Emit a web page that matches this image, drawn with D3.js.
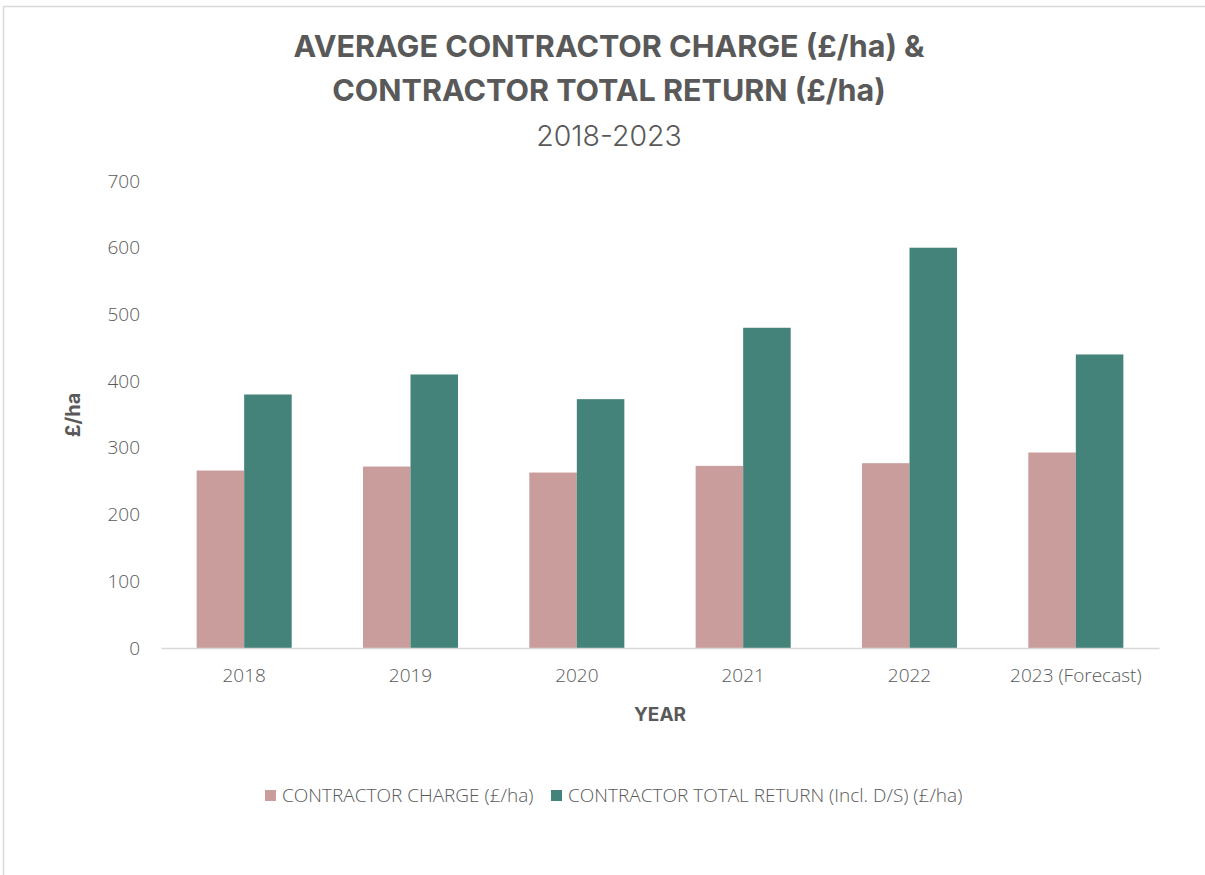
<!DOCTYPE html>
<html>
<head>
<meta charset="utf-8">
<script src="https://cdn.jsdelivr.net/npm/d3@7"></script>
<style>
  body { margin: 0; background: #fff; }
  svg { display: block; }
  .tick text { font-family: "Open Sans", sans-serif; font-size: 19px; fill: #595959; font-weight: 300; }
</style>
</head>
<body>
<svg width="1205" height="875"></svg>
<script>
// data
const years = ["2018", "2019", "2020", "2021", "2022", "2023 (Forecast)"];
const contractorCharge = [266, 272, 263, 273, 277, 293];
const totalReturn = [380, 410, 373, 480, 600, 440];
const seriesNames = ["CONTRACTOR CHARGE (£/ha)", "CONTRACTOR TOTAL RETURN (Incl. D/S) (£/ha)"];
const yTicks = [0, 100, 200, 300, 400, 500, 600, 700];

const colors = ["#c89d9b", "#44837a"];
const textColor = "#595959";

const svg = d3.select("svg");
const margin = { top: 181, right: 46, bottom: 227, left: 161 };
const width = 1205, height = 875;
const innerWidth = width - margin.left - margin.right;
const innerHeight = height - margin.top - margin.bottom;

// chart border (right and bottom edges fall outside the picture)
svg.append("path")
  .attr("d", "M3.5,875 V6.5 H1205")
  .attr("fill", "none").attr("stroke", "#d9d9d9").attr("stroke-width", 1.5);

// titles
svg.append("text")
  .attr("x", 609).attr("y", 57)
  .attr("text-anchor", "middle")
  .style("font-family", "Inter, sans-serif").style("font-weight", 700)
  .style("font-size", "30.5px").style("fill", textColor)
  .text("AVERAGE CONTRACTOR CHARGE (£/ha) &");
svg.append("text")
  .attr("x", 609).attr("y", 101)
  .attr("text-anchor", "middle")
  .style("font-family", "Inter, sans-serif").style("font-weight", 700)
  .style("font-size", "30.5px").style("fill", textColor)
  .text("CONTRACTOR TOTAL RETURN (£/ha)");
svg.append("text")
  .attr("x", 609).attr("y", 146)
  .attr("text-anchor", "middle")
  .style("font-family", "Inter, sans-serif").style("font-weight", 300)
  .style("font-size", "28.5px").style("fill", textColor)
  .text("2018-2023");

const g = svg.append("g")
  .attr("transform", `translate(${margin.left},${margin.top})`);

const x0 = d3.scaleBand()
  .domain(years)
  .range([0, innerWidth])
  .paddingInner(0.4286)
  .paddingOuter(0.2143);

const x1 = d3.scaleBand()
  .domain([0, 1])
  .range([0, x0.bandwidth()]);

const y = d3.scaleLinear()
  .domain([0, 700])
  .range([innerHeight, 0]);

// y axis (no line)
const yAxis = g.append("g")
  .call(d3.axisLeft(y).tickValues(yTicks).tickSize(0).tickPadding(21));
yAxis.select(".domain").remove();

// bars
const groups = g.selectAll(".year")
  .data(years)
  .join("g")
  .attr("transform", d => `translate(${x0(d)},0)`);

groups.selectAll("rect")
  .data((d, i) => [contractorCharge[i], totalReturn[i]])
  .join("rect")
  .attr("x", (d, j) => x1(j))
  .attr("y", d => y(d))
  .attr("width", x1.bandwidth())
  .attr("height", d => innerHeight - y(d))
  .attr("fill", (d, j) => colors[j]);

// x axis
const xAxis = g.append("g")
  .attr("transform", `translate(0,${innerHeight})`)
  .call(d3.axisBottom(d3.scaleBand().domain(years).range([0, innerWidth])).tickSize(0).tickPadding(21));
xAxis.select(".domain").attr("stroke", "#d9d9d9").attr("stroke-width", 1.5);

// axis titles
svg.append("text")
  .attr("transform", "translate(80,415) rotate(-90)")
  .attr("text-anchor", "middle")
  .style("font-family", "Inter, sans-serif").style("font-weight", 700)
  .style("font-size", "20px").style("fill", textColor)
  .text("£/ha");

svg.append("text")
  .attr("x", 660).attr("y", 721)
  .attr("text-anchor", "middle")
  .style("font-family", "Inter, sans-serif").style("font-weight", 700)
  .style("font-size", "19px").style("fill", textColor)
  .text("YEAR");

// legend
const legendX = [265, 551];
seriesNames.forEach((name, i) => {
  svg.append("rect")
    .attr("x", legendX[i]).attr("y", 790)
    .attr("width", 11).attr("height", 11)
    .attr("fill", colors[i]);
  svg.append("text")
    .attr("x", legendX[i] + 17).attr("y", 802)
    .style("font-family", "Open Sans, sans-serif").style("font-weight", 300)
    .style("font-size", "19px").style("fill", textColor)
    .text(name);
});
</script>
</body>
</html>
